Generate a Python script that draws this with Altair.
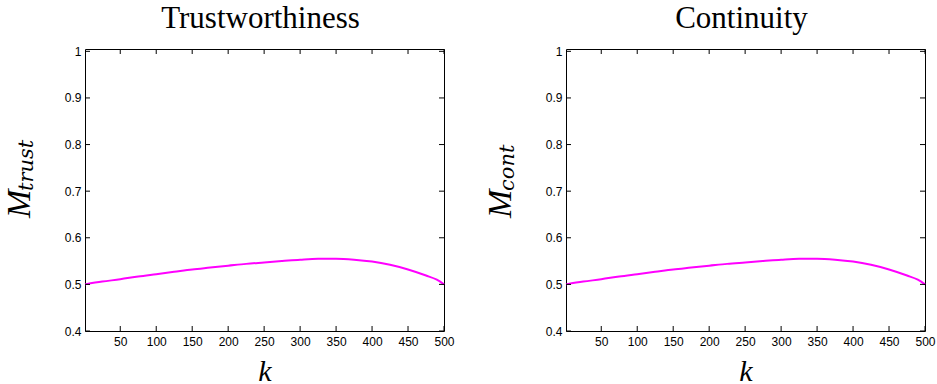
import altair as alt
import pandas as pd

# ---- data ----
k_vals = [1, 25, 50, 75, 100, 125, 150, 175, 200, 225, 250, 275, 300, 325, 350,
          375, 400, 425, 450, 475, 490, 500]
trust_vals = [0.500, 0.506, 0.511, 0.517, 0.522, 0.527, 0.532, 0.536, 0.540, 0.544,
              0.547, 0.550, 0.553, 0.555, 0.555, 0.553, 0.549, 0.542, 0.532, 0.519,
              0.510, 0.500]
cont_vals = [0.500, 0.506, 0.511, 0.517, 0.522, 0.527, 0.532, 0.536, 0.540, 0.544,
             0.547, 0.550, 0.553, 0.555, 0.555, 0.553, 0.549, 0.542, 0.532, 0.519,
             0.510, 0.500]
x_ticks = [50, 100, 150, 200, 250, 300, 350, 400, 450, 500]
y_ticks = [0.4, 0.5, 0.6, 0.7, 0.8, 0.9, 1.0]
titles = ["Trustworthiness", "Continuity"]
subscripts = ["trust", "cont"]

W, H = 359, 282
TL = 5  # inward tick length


def panel(title, vals, sub):
    df = pd.DataFrame({"k": k_vals, "m": vals})
    xs = alt.Scale(domain=[1, 500], nice=False, zero=False)
    ys = alt.Scale(domain=[0.4, 1.005], nice=False, zero=False)
    xa = alt.Axis(
        values=x_ticks, ticks=False, domain=False, grid=False,
        labelFont="Liberation Sans", labelFontSize=12, labelColor="black",
        labelPadding=5, labelFlush=False, labelOverlap=False, labelBound=False,
        title="k", titleFont="Liberation Serif",
        titleFontStyle="italic", titleFontWeight="normal", titleFontSize=30,
        titleColor="black", titlePadding=9)
    ya = alt.Axis(
        values=y_ticks, ticks=False, domain=False, grid=False,
        labelExpr="datum.value == 1 ? '1' : format(datum.value, '.1f')",
        labelFont="Liberation Sans", labelFontSize=12, labelColor="black",
        labelPadding=4, labelFlush=False, labelOverlap=False, title=None)

    line = alt.Chart(df).mark_line(color="#FF00FF", strokeWidth=2,
                                   interpolate="monotone").encode(
        x=alt.X("k:Q", scale=xs, axis=xa),
        y=alt.Y("m:Q", scale=ys, axis=ya),
    )

    xt = pd.DataFrame({"k": x_ticks})
    yt = pd.DataFrame({"m": y_ticks})
    xtick_b = alt.Chart(xt).mark_rule(color="black", strokeWidth=1).encode(
        x=alt.X("k:Q", scale=xs, axis=xa), y=alt.value(H), y2=alt.value(H - TL))
    xtick_t = alt.Chart(xt).mark_rule(color="black", strokeWidth=1).encode(
        x=alt.X("k:Q", scale=xs, axis=xa), y=alt.value(0), y2=alt.value(TL))
    ytick_l = alt.Chart(yt).mark_rule(color="black", strokeWidth=1).encode(
        y=alt.Y("m:Q", scale=ys, axis=ya), x=alt.value(0), x2=alt.value(TL))
    ytick_r = alt.Chart(yt).mark_rule(color="black", strokeWidth=1).encode(
        y=alt.Y("m:Q", scale=ys, axis=ya), x=alt.value(W - TL), x2=alt.value(W))

    mlab = alt.Chart(pd.DataFrame({"t": ["M"]})).mark_text(
        font="Liberation Serif", fontStyle="italic", fontSize=34, angle=270,
        align="left", baseline="alphabetic", color="black").encode(
        text="t:N", x=alt.value(-55), y=alt.value(169))
    slab = alt.Chart(pd.DataFrame({"t": [sub]})).mark_text(
        font="DejaVu Serif", fontStyle="italic", fontSize=21, angle=270,
        align="left", baseline="alphabetic", color="black").encode(
        text="t:N", x=alt.value(-52), y=alt.value(142))

    return alt.layer(line, xtick_b, xtick_t, ytick_l, ytick_r, mlab, slab).properties(
        width=W, height=H,
        title=alt.TitleParams(title, font="Liberation Serif", fontSize=31,
                              fontWeight="normal", color="black", anchor="middle",
                              frame="group", offset=10, dx=-4))


chart = alt.hconcat(
    panel(titles[0], trust_vals, subscripts[0]),
    panel(titles[1], cont_vals, subscripts[1]),
    spacing=28,
).properties(
    padding={"left": 2, "top": 2, "right": 0, "bottom": 0},
    background="white",
).configure_view(stroke="black", strokeWidth=1).configure_axis(labelOverlap=False)

chart.save("out.html", embed_options={"renderer": "svg", "actions": False})
